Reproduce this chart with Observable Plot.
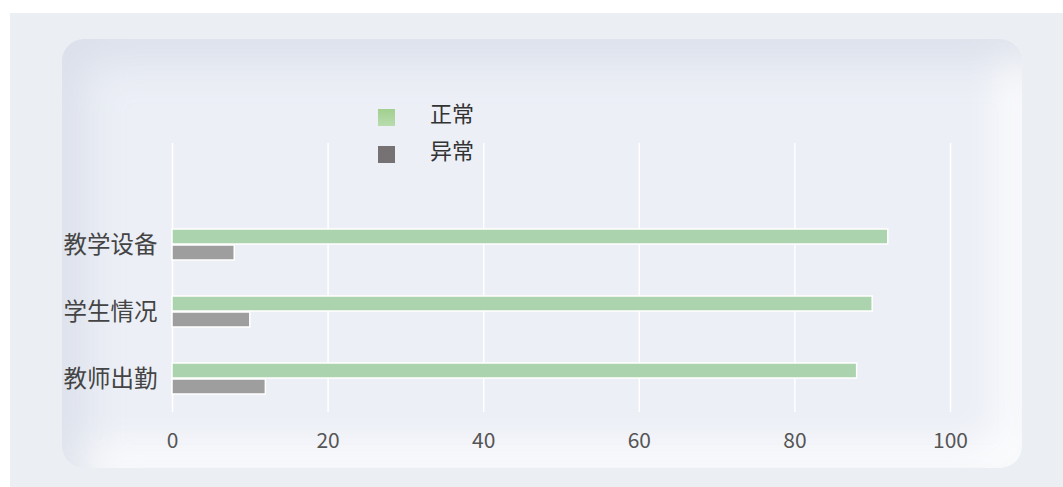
<!DOCTYPE html>
<html>
<head>
<meta charset="utf-8">
<script src="https://cdn.jsdelivr.net/npm/d3@7"></script>
<script src="https://cdn.jsdelivr.net/npm/@observablehq/plot@0.6"></script>
<style>
  html, body { margin: 0; padding: 0; background: #ffffff; width: 1063px; height: 487px; overflow: hidden; }
  #bg { position: absolute; left: 10px; top: 13px; width: 1053px; height: 474px; background: #ebeef3; }
  #card { position: absolute; left: 62px; top: 39px; width: 960px; height: 429px; border-radius: 22px;
          background: #eceff6;
          box-shadow: inset 20px 20px 40px rgba(212,218,229,0.75), inset -20px -20px 40px rgba(255,255,255,0.95); }
  #chart { position: absolute; left: 0; top: 0; }
  .leg { position: absolute; font-family: "Noto Sans CJK SC", sans-serif; font-size: 22px; color: #333; line-height: 22px; }
  .sw { position: absolute; width: 17px; height: 17px; }
</style>
</head>
<body>
<div id="bg"></div>
<div id="card"></div>
<div id="chart"></div>
<div id="legend"></div>
<script>
const categories = ["教学设备", "学生情况", "教师出勤"];
const normalValues = [92, 90, 88];
const abnormalValues = [8, 10, 12];
const seriesNames = ["正常", "异常"];
const xTicks = [0, 20, 40, 60, 80, 100];

const rows = categories.map((c, i) => ({category: c, normal: normalValues[i], abnormal: abnormalValues[i]}));

const plot = Plot.plot({
  width: 1063,
  height: 487,
  marginLeft: 172,
  marginRight: 113,
  marginTop: 143,
  marginBottom: 75,
  style: {background: "transparent", fontFamily: "'Noto Sans CJK SC', sans-serif"},
  x: {domain: [0, 100], ticks: xTicks},
  y: {domain: categories, range: [210, 412], padding: 0},
  marks: [
    Plot.gridX(xTicks, {stroke: "#ffffff", strokeOpacity: 1, strokeWidth: 1.5}),
    Plot.barX(rows, {y: "category", x: "normal", fill: "#abd3ad", stroke: "#ffffff", strokeWidth: 1.5, insetTop: 18, insetBottom: 34}),
    Plot.barX(rows, {y: "category", x: "abnormal", fill: "#9e9e9e", stroke: "#ffffff", strokeWidth: 1.5, insetTop: 34, insetBottom: 18}),
    Plot.axisX(xTicks, {tickSize: 0, tickPadding: 21, fontSize: 21, fill: "#555555", label: null}),
    Plot.axisY({tickSize: 0, tickPadding: 15, fontSize: 23.5, fill: "#444444", label: null})
  ]
});
document.getElementById("chart").appendChild(plot);

const legend = document.getElementById("legend");
const swatchFills = ["linear-gradient(#a2cf8f, #b8dcae)", "#767172"];
const legendTops = [109, 146];
seriesNames.forEach((name, i) => {
  const sw = document.createElement("div");
  sw.className = "sw";
  sw.style.left = "378px";
  sw.style.top = legendTops[i] + "px";
  sw.style.background = swatchFills[i];
  legend.appendChild(sw);
  const t = document.createElement("div");
  t.className = "leg";
  t.style.left = "430px";
  t.style.top = (legendTops[i] - 8) + "px";
  t.textContent = name;
  legend.appendChild(t);
});
</script>
</body>
</html>
